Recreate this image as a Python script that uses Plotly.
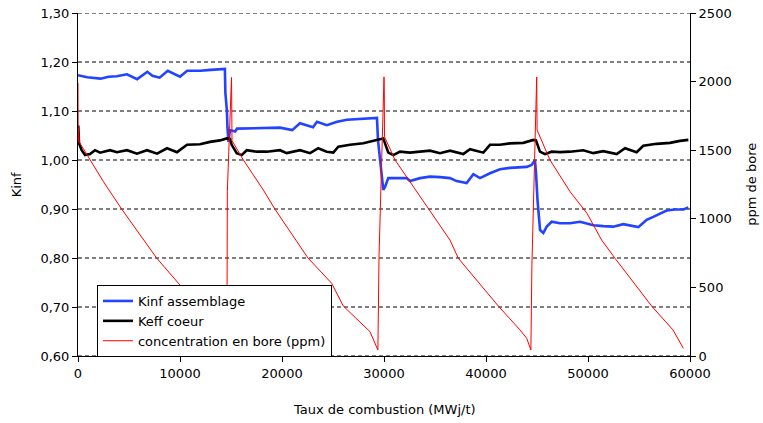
import plotly.graph_objects as go

# Kinf assemblage (left axis)
burnup_kinf = [0, 900, 2200, 3000, 3800, 4800, 5800, 6800, 7300, 8000, 8800, 9400, 10000, 10700, 12000, 13000,
               14200, 14400, 14450, 14600, 14650, 14750, 14900, 15400, 15600, 17500, 19800, 21000, 21760, 23040,
               23430, 24400, 25400, 26370, 27940, 29310, 29410, 29800, 29930, 30100, 30420, 32220, 32550, 33530,
               34500, 35490, 36470, 37120, 38100, 38760, 39410, 40390, 41370, 42350, 43990, 44480, 44800, 44900,
               45050, 45300, 45620, 45950, 46440, 47250, 48240, 49220, 49700, 50530, 51500, 52480, 53460, 54280,
               54930, 55260, 55750, 56400, 57060, 57710, 58530, 59350, 59840]
kinf = [1.173, 1.169, 1.166, 1.170, 1.171, 1.175, 1.165, 1.180, 1.172, 1.168, 1.182, 1.176, 1.170, 1.182, 1.182, 1.184,
        1.187, 1.186, 1.137, 1.100, 1.067, 1.037, 1.061, 1.058, 1.064, 1.065, 1.066, 1.061, 1.075, 1.067,
        1.078, 1.071, 1.078, 1.082, 1.084, 1.086, 1.041, 0.959, 0.939, 0.945, 0.963, 0.963, 0.957, 0.963,
        0.966, 0.965, 0.963, 0.957, 0.953, 0.971, 0.963, 0.973, 0.981, 0.984, 0.986, 0.990, 1.000, 0.975,
        0.918, 0.857, 0.851, 0.864, 0.874, 0.871, 0.871, 0.874, 0.871, 0.867, 0.865, 0.864, 0.869, 0.865,
        0.863, 0.869, 0.878, 0.884, 0.890, 0.897, 0.899, 0.899, 0.903]

# Keff coeur (left axis)
burnup_keff = [0, 30, 100, 360, 690, 1180, 1670, 2160, 3140, 3820, 4800, 5780, 6760, 7750, 8730, 9710, 10690,
               11960, 12940, 13920, 14580, 14900, 15070, 15560, 16050, 16540, 17520, 18500, 19800, 20460, 21760,
               22750, 23560, 24380, 25030, 25520, 26670, 27970, 29280, 29930, 30420, 30910, 31570, 32550, 34510,
               35490, 36470, 37770, 38430, 39740, 40390, 41370, 42350, 43660, 44640, 44900, 45290, 45780, 46440,
               47250, 48240, 49540, 50520, 51500, 52810, 53630, 54770, 55420, 56730, 58040, 59020, 59840]
keff = [1.068, 1.068, 1.034, 1.020, 1.010, 1.012, 1.020, 1.015, 1.020, 1.016, 1.020, 1.013, 1.020, 1.013, 1.024,
        1.016, 1.031, 1.032, 1.037, 1.040, 1.044, 1.043, 1.031, 1.014, 1.010, 1.020, 1.017, 1.017, 1.020, 1.014,
        1.020, 1.014, 1.024, 1.017, 1.015, 1.027, 1.031, 1.034, 1.041, 1.044, 1.015, 1.010, 1.017, 1.015, 1.019,
        1.014, 1.019, 1.012, 1.022, 1.015, 1.031, 1.031, 1.034, 1.035, 1.041, 1.040, 1.017, 1.012, 1.017,
        1.016, 1.017, 1.020, 1.014, 1.018, 1.012, 1.024, 1.016, 1.029, 1.033, 1.035, 1.039, 1.041]

# concentration en bore, ppm (right axis)
burnup_bore = [0, 20, 40, 120, 1180, 2500, 4280, 6000, 7710, 10000, 12000, 13500, 14300, 14600, 14640, 15050,
               15070, 15060, 15100, 16210, 18170, 19300, 22550, 24870, 26010, 28630, 29400, 29510, 30000, 30030,
               30050, 31080, 34340, 36470, 37290, 41210, 43330, 43990, 44400, 44500, 44970, 45000, 45010, 46270,
               48240, 49900, 51340, 52650, 56240, 58330, 59350]
bore = [1990, 1560, 1660, 1560, 1429, 1270, 1071, 890, 714, 517, 330, 180, 80, 15, 1200, 2030,
        1900, 1650, 1570, 1429, 1210, 1071, 714, 530, 364, 177, 44, 720, 2034, 1917,
        1597, 1429, 1071, 845, 712, 364, 190, 129, 44, 660, 2034, 1917, 1647, 1429,
        1198, 1040, 845, 712, 364, 190, 56]

x_ticks = [0, 10000, 20000, 30000, 40000, 50000, 60000]
x_ticklabels = ["0", "10000", "20000", "30000", "40000", "50000", "60000"]
k_ticks = [0.6, 0.7, 0.8, 0.9, 1.0, 1.1, 1.2, 1.3]
k_ticklabels = ["0,60", "0,70", "0,80", "0,90", "1,00", "1,10", "1,20", "1,30"]
ppm_ticks = [0, 500, 1000, 1500, 2000, 2500]

FONT = "DejaVu Sans"
FS = 13

fig = go.Figure()
fig.add_trace(go.Scatter(x=burnup_kinf, y=kinf, mode="lines", name="Kinf assemblage",
                         line=dict(color="#2243ff", width=2.6)))
fig.add_trace(go.Scatter(x=burnup_keff, y=keff, mode="lines", name="Keff coeur",
                         line=dict(color="black", width=2.6)))
fig.add_trace(go.Scatter(x=burnup_bore, y=bore, mode="lines", name="concentration en bore (ppm)",
                         line=dict(color="#ff0000", width=1), yaxis="y2"))

# dashed horizontal grid
for v in k_ticks:
    fig.add_shape(type="line", xref="paper", yref="y", x0=0, x1=1, y0=v, y1=v,
                  line=dict(color="black", width=1, dash="4px,3px"), layer="below")

# axis titles placed as annotations
fig.add_annotation(text="Kinf", xref="paper", yref="paper", x=-0.1, y=0.5,
                   textangle=-90, showarrow=False, xanchor="center", yanchor="middle")
fig.add_annotation(text="ppm de bore", xref="paper", yref="paper", x=1.1, y=0.5,
                   textangle=-90, showarrow=False, xanchor="center", yanchor="middle")
fig.add_annotation(text="Taux de combustion (MWj/t)", xref="paper", yref="paper", x=0.5, y=-0.157,
                   showarrow=False, xanchor="center", yanchor="middle")

axis_style = dict(showline=True, linecolor="black", linewidth=1, ticks="outside", ticklen=5,
                  tickcolor="black", showgrid=False, zeroline=False, automargin=False)

fig.update_layout(
    width=763, height=423,
    margin=dict(l=78, r=73, t=13, b=67, autoexpand=False),
    plot_bgcolor="white", paper_bgcolor="white",
    font=dict(family=FONT, size=FS, color="black"),
    showlegend=True,
    legend=dict(x=0.031, y=0.207, xanchor="left", yanchor="top",
                bgcolor="white", bordercolor="black", borderwidth=1,
                font=dict(family=FONT, size=FS), tracegroupgap=0),
    xaxis=dict(range=[0, 60000], tickvals=x_ticks, ticktext=x_ticklabels, **axis_style),
    yaxis=dict(range=[0.6, 1.3], tickvals=k_ticks, ticktext=k_ticklabels, **axis_style),
    yaxis2=dict(range=[0, 2500], tickvals=ppm_ticks, overlaying="y", side="right", **axis_style),
)

# page body has an 8px default margin; remove it so the figure sits at the window's corner
fig.write_html("out.html", config={"displayModeBar": False},
               post_script="document.body.style.margin='0';")
